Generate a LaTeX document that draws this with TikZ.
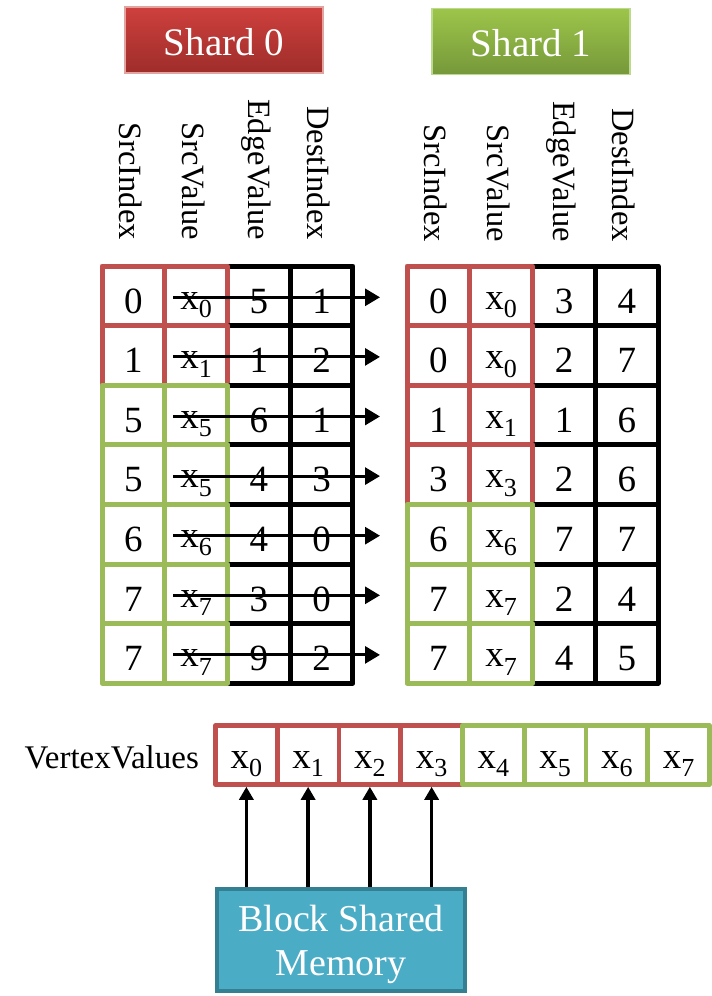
\documentclass[tikz,border=0pt]{standalone}
\usepackage{fontspec}
\setmainfont{Liberation Serif}
\usepackage{graphicx}
\usetikzlibrary{arrows.meta}
\definecolor{cred}{HTML}{C0504D}
\definecolor{cgreen}{HTML}{9BBB59}
\definecolor{sztop}{HTML}{CE403D}
\definecolor{szbot}{HTML}{9E2D2A}
\definecolor{szbord}{HTML}{E2A3A1}
\definecolor{sotop}{HTML}{9DC54A}
\definecolor{sobot}{HTML}{76983A}
\definecolor{sobord}{HTML}{BCDA8E}
\definecolor{bsmfill}{HTML}{4BACC6}
\definecolor{bsmbord}{HTML}{357F93}
\newcommand{\xs}[1]{x\raisebox{-8.5pt}{\fontsize{26}{26}\selectfont #1}}
\begin{document}
\begin{tikzpicture}[x=1pt,y=-1pt,
  cellbox/.style={draw, rectangle, line width=5pt, minimum width=62.75pt, minimum height=59.6pt, inner sep=0pt, line join=round, font=\fontsize{37}{40}\selectfont},
  rcell/.style={cellbox, minimum width=62.8pt},
  vcell/.style={cellbox, line width=4.6pt, minimum width=61.75pt, minimum height=59pt},
  dg/.style={text height=34.4pt, text depth=0pt},
  xv/.style={text height=26.4pt, text depth=0pt},
  hdr/.style={rotate=-90, anchor=east, inner sep=0pt, font=\fontsize{32.5}{36}\selectfont},
  shard/.style={rectangle, minimum width=198pt, minimum height=66pt, line width=1.2pt, text=white, inner sep=0pt, text height=30pt, text depth=0pt, font=\fontsize{39}{42}\selectfont},
  harrow/.style={line width=3pt, -{Triangle[length=15pt,width=17pt]}},
  varrow/.style={line width=3.3pt, -{Triangle[length=13pt,width=14pt]}},
]
\useasboundingbox (0,0) rectangle (712,996);
\fill[white] (0,0) rectangle (712,996);

% shard headers
\node[shard, draw=szbord, top color=sztop, bottom color=szbot] (s0) at (224,40) {Shard 0};
\node[shard, draw=sobord, top color=sotop, bottom color=sobot] (s1) at (531,41.5) {Shard 1};

% column headers
\foreach \t [count=\i from 0] in {SrcIndex,SrcValue,EdgeValue,DestIndex} {
  \node[hdr] (hl\i) at ({102+62.75*(\i+0.5)-3}, 240) {\t};
  \node[hdr] (hr\i) at ({407+62.8*(\i+0.5)-3}, 242) {\t};
}

% left table (shard 0)
\foreach \r/\a/\b/\c/\d/\col in {0/0/0/5/1/cred, 1/1/1/1/2/cred, 2/5/5/6/1/cgreen, 3/5/5/4/3/cgreen, 4/6/6/4/0/cgreen, 5/7/7/3/0/cgreen, 6/7/7/9/2/cgreen} {
  \pgfmathsetmacro{\yy}{266+59.6*(\r+0.5)}
  \node[cellbox, draw=black, dg] (L\r-2) at (258.9,\yy) {\c};
  \node[cellbox, draw=black, dg] (L\r-3) at (321.6,\yy) {\d};
  \node[cellbox, draw=\col, dg] (L\r-0) at (133.4,\yy) {\a};
  \node[cellbox, draw=\col, xv] (L\r-1) at (196.1,\yy) {\xs{\b}};
  \coordinate (as\r) at (173,\yy+1.5);
  \coordinate (ae\r) at (380,\yy+1.5);
  \draw[harrow] (as\r) -- (ae\r);
}

% right table (shard 1)
\foreach \r/\a/\b/\c/\d/\col in {0/0/0/3/4/cred, 1/0/0/2/7/cred, 2/1/1/1/6/cred, 3/3/3/2/6/cred, 4/6/6/7/7/cgreen, 5/7/7/2/4/cgreen, 6/7/7/4/5/cgreen} {
  \pgfmathsetmacro{\yy}{266+59.6*(\r+0.5)}
  \node[rcell, draw=black, dg] (R\r-2) at (564.0,\yy) {\c};
  \node[rcell, draw=black, dg] (R\r-3) at (626.8,\yy) {\d};
  \node[rcell, draw=\col, dg] (R\r-0) at (438.4,\yy) {\a};
  \node[rcell, draw=\col, xv] (R\r-1) at (501.2,\yy) {\xs{\b}};
}

% vertex values
\node[anchor=base east, inner sep=0pt, font=\fontsize{33}{36}\selectfont] (vl) at (199,768) {VertexValues};
\foreach \k in {0,...,3}
  \node[vcell, draw=cred, xv] (V\k) at ({215.5+61.75*(\k+0.5)}, 755) {\xs{\k}};
\foreach \k in {4,...,7}
  \node[vcell, draw=cgreen, xv] (V\k) at ({215.5+61.75*(\k+0.5)}, 755) {\xs{\k}};

% block shared memory
\node[rectangle, draw=bsmbord, fill=bsmfill, line width=4pt, minimum width=248pt, minimum height=102pt, inner sep=0pt] (bsm) at (341,940) {};
\node[text=white, align=center, inner sep=0pt, font=\fontsize{38}{44}\selectfont] (bsmtext) at (341,944) {Block Shared\\Memory};
\foreach \k in {0,...,3}
  \draw[varrow] (V\k.south |- bsm.north) -- (V\k.south);
\end{tikzpicture}
\end{document}
